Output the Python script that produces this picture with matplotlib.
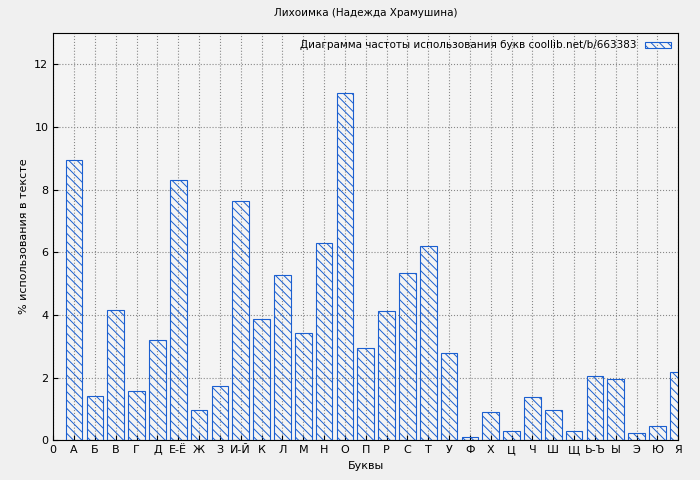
import matplotlib
matplotlib.use("Agg")
import matplotlib.pyplot as plt

letters = ["А", "Б", "В", "Г", "Д", "Е-Ё", "Ж", "З", "И-Й", "К", "Л", "М", "Н", "О", "П",
           "Р", "С", "Т", "У", "Ф", "Х", "Ц", "Ч", "Ш", "Щ", "Ь-Ъ", "Ы", "Э", "Ю", "Я"]
values = [8.94, 1.40, 4.15, 1.56, 3.19, 8.30, 0.96, 1.72, 7.63, 3.86, 5.27, 3.41, 6.29, 11.08, 2.94,
          4.12, 5.33, 6.19, 2.78, 0.10, 0.89, 0.29, 1.37, 0.96, 0.29, 2.04, 1.95, 0.22, 0.45, 2.17]

plt.rcParams['hatch.color'] = '#1a5fd0'
plt.rcParams['hatch.linewidth'] = 0.7

fig = plt.figure(figsize=(7, 4.8), dpi=100, facecolor='#f0f0f0')
ax = fig.add_axes([0.076, 0.083, 0.893, 0.848])
ax.set_facecolor('#f4f4f4')

pos = list(range(1, len(letters) + 1))
ax.bar(pos, values, width=0.8, facecolor='none', edgecolor='#1a5fd0', hatch='\\\\\\\\',
       linewidth=0.8, label='Диаграмма частоты использования букв coollib.net/b/663383', zorder=3)

ax.set_xlim(0, 30)
ax.set_ylim(0, 13)
ax.set_xticks([0] + pos)
ax.set_xticklabels(["0"] + letters, fontsize=8)
ax.set_yticks(range(0, 13, 2))
ax.tick_params(axis='y', labelsize=8)
ax.tick_params(direction='in')
ax.grid(True, color='#888888', linestyle=':', linewidth=0.8, zorder=0)
ax.set_xlabel('Буквы', fontsize=8)
ax.set_ylabel('% использования в тексте', fontsize=8)
ax.set_title('Лихоимка (Надежда Храмушина)', fontsize=7.5, pad=12)
ax.legend(loc='upper right', fontsize=7.5, markerfirst=False, frameon=False,
          handlelength=2.5, handleheight=0.5, borderaxespad=0.3)

fig.savefig('out.png', dpi=100, facecolor=fig.get_facecolor())
